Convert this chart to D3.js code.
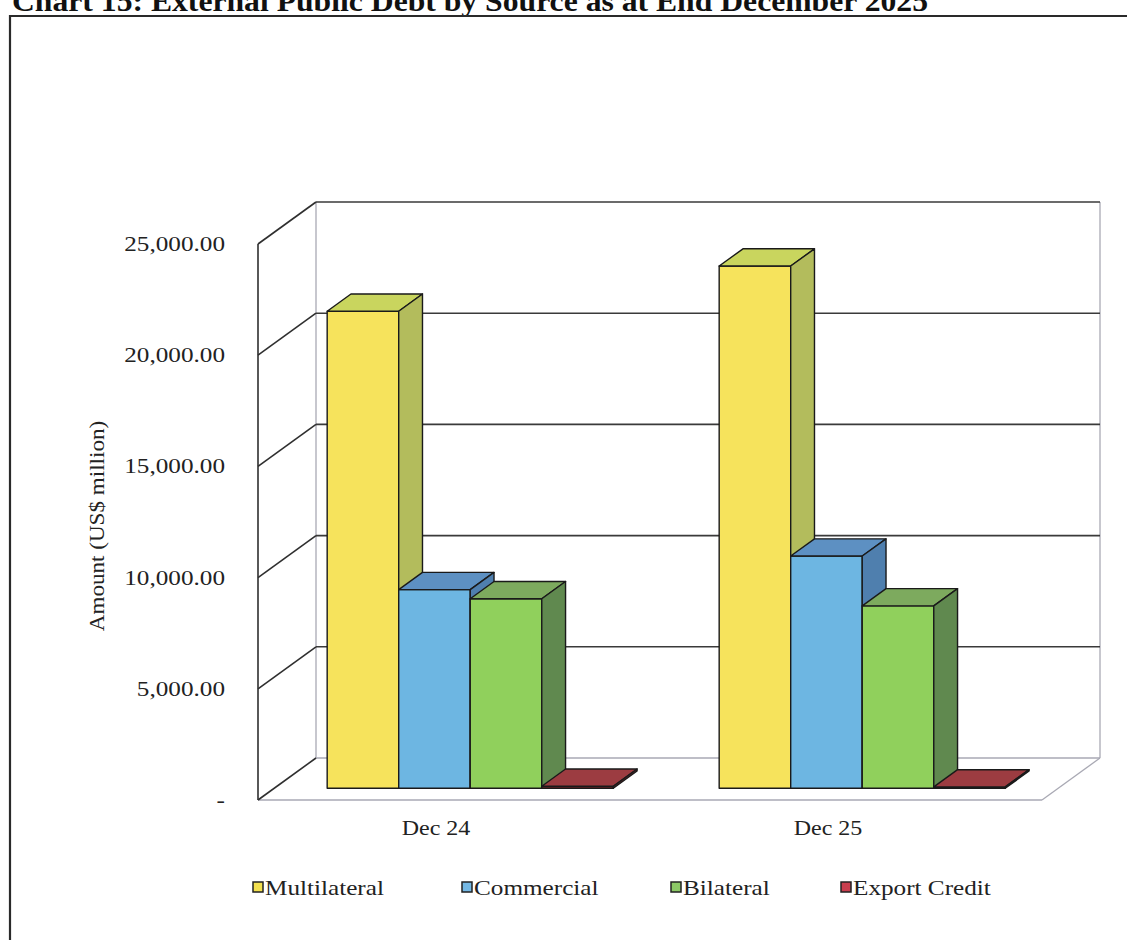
<!DOCTYPE html>
<html>
<head>
<meta charset="utf-8">
<script src="https://cdn.jsdelivr.net/npm/d3@7"></script>
<style>
  html, body { margin: 0; padding: 0; background: #fff; }
  svg { display: block; font-family: "Liberation Serif", "Times New Roman", serif; }
</style>
</head>
<body>
<script>
// External public debt by source (US$ million)
const categories = ["Dec 24", "Dec 25"];
const seriesNames = ["Multilateral", "Commercial", "Bilateral", "Export Credit"];
const multilateral = [21450, 23480];
const commercial = [8930, 10440];
const bilateral = [8520, 8200];
const exportCredit = [90, 60];
const yTicks = [0, 5000, 10000, 15000, 20000, 25000];

const seriesValues = [multilateral, commercial, bilateral, exportCredit];

// face shades for each series: front, top, side, legend swatch
const palette = [
  { front: "#F6E35C", top: "#C9D55E", side: "#B3BC5C", key: "#F3E04E" },
  { front: "#6DB6E2", top: "#5D90C2", side: "#4F7FAE", key: "#74B8E4" },
  { front: "#90D05C", top: "#7DAA5E", side: "#60894F", key: "#8CC866" },
  { front: "#7A2227", top: "#9C3C41", side: "#6A2024", key: "#C83E4E" }
];

const W = 1127, H = 940;
const TXT = "#222";
const SX = 1.2; // the typeface is set slightly wide
const svg = d3.select("body").append("svg").attr("width", W).attr("height", H);

// chart title (runs off the top edge)
svg.append("text")
  .attr("x", 12).attr("y", 11)
  .attr("font-size", 30).attr("font-weight", "bold")
  .attr("textLength", 916).attr("lengthAdjust", "spacingAndGlyphs")
  .attr("fill", "#111")
  .text("Chart 15: External Public Debt by Source as at End December 2025");

// chart area border
svg.append("path")
  .attr("d", `M10,${H + 2}L10,16L${W + 2},16`)
  .attr("fill", "none").attr("stroke", "#2a2a2a").attr("stroke-width", 2.2);

// scales on the front plane
const y = d3.scaleLinear().domain([0, 25000]).range([800, 244]);
const xCat = d3.scaleBand().domain(categories).range([258, 1042]);
const xSer = d3.scaleBand().domain(seriesNames).range([0, xCat.bandwidth()]).paddingOuter(0.74);

// oblique depth projection
const DX = 58, DY = -42;
const P = (x, v, d) => [x + d * DX, y(v) + d * DY];
const poly = pts => "M" + pts.map(p => p.join(",")).join("L") + "Z";
const line = (a, b) => "M" + a.join(",") + "L" + b.join(",");

const xL = xCat.range()[0], xR = xCat.range()[1];
const vMax = y.domain()[1];

const frame = svg.append("g").attr("fill", "none");

// back wall and floor outline (light)
const light = "#a9a9b4";
frame.append("path").attr("d", line(P(xL, 0, 1), P(xL, vMax, 1))).attr("stroke", light).attr("stroke-width", 1.3);
frame.append("path").attr("d", line(P(xR, 0, 1), P(xR, vMax, 1))).attr("stroke", light).attr("stroke-width", 1.3);
frame.append("path").attr("d", line(P(xL, 0, 0), P(xR, 0, 0))).attr("stroke", light).attr("stroke-width", 1.3);
frame.append("path").attr("d", line(P(xR, 0, 0), P(xR, 0, 1))).attr("stroke", light).attr("stroke-width", 1.3);

// gridlines on back wall and side wall
yTicks.forEach(t => {
  frame.append("path").attr("d", line(P(xL, t, 1), P(xR, t, 1)))
    .attr("stroke", t === 0 ? light : "#3a3a3a").attr("stroke-width", t === 0 ? 1.3 : 1.6);
  frame.append("path").attr("d", line(P(xL, t, 0), P(xL, t, 1)))
    .attr("stroke", "#2f2f2f").attr("stroke-width", 1.6);
});
// front vertical axis
frame.append("path").attr("d", line(P(xL, 0, 0), P(xL, vMax, 0))).attr("stroke", "#2f2f2f").attr("stroke-width", 1.6);

// value axis labels
const fmt = d3.format(",.2f");
svg.append("g").selectAll("text").data(yTicks).join("text")
  .attr("transform", d => `translate(225,${y(d) + 7}) scale(${SX},1)`)
  .attr("text-anchor", "end").attr("font-size", 21).attr("fill", TXT)
  .text(d => d === 0 ? "-" : fmt(d));

// axis title
svg.append("text")
  .attr("transform", "translate(104,526) rotate(-90) scale(1.1,1)")
  .attr("text-anchor", "middle").attr("font-size", 21).attr("fill", TXT)
  .text("Amount (US$ million)");

// category labels
svg.append("g").selectAll("text").data(categories).join("text")
  .attr("transform", d => `translate(${xCat(d) + xCat.bandwidth() / 2 - 18},835) scale(${SX},1)`)
  .attr("text-anchor", "middle").attr("font-size", 20).attr("fill", TXT)
  .text(d => d);

// 3D columns
const dF = 0.28, dB = 0.69;
const bars = svg.append("g").attr("stroke", "#1a1a1a").attr("stroke-width", 1.4).attr("stroke-linejoin", "round");
categories.forEach((c, ci) => {
  seriesNames.forEach((s, si) => {
    const v = seriesValues[si][ci];
    const xl = xCat(c) + xSer(s), xr = xl + xSer.bandwidth();
    const col = palette[si];
    bars.append("path").attr("d", poly([P(xl, 0, dF), P(xr, 0, dF), P(xr, v, dF), P(xl, v, dF)])).attr("fill", col.front);
    bars.append("path").attr("d", poly([P(xl, v, dF), P(xr, v, dF), P(xr, v, dB), P(xl, v, dB)])).attr("fill", col.top);
    bars.append("path").attr("d", poly([P(xr, 0, dF), P(xr, v, dF), P(xr, v, dB), P(xr, 0, dB)])).attr("fill", col.side);
  });
});

// legend
const legendX = [253, 462, 671, 841];
const legend = svg.append("g").selectAll("g").data(seriesNames).join("g")
  .attr("transform", (d, i) => `translate(${legendX[i]},888)`);
legend.append("rect").attr("x", 0).attr("y", -6).attr("width", 10).attr("height", 10)
  .attr("fill", (d, i) => palette[i].key).attr("stroke", "#222").attr("stroke-width", 1.5);
legend.append("text").attr("transform", `translate(12,7) scale(${SX},1)`)
  .attr("font-size", 21).attr("fill", TXT).text(d => d);
</script>
</body>
</html>
